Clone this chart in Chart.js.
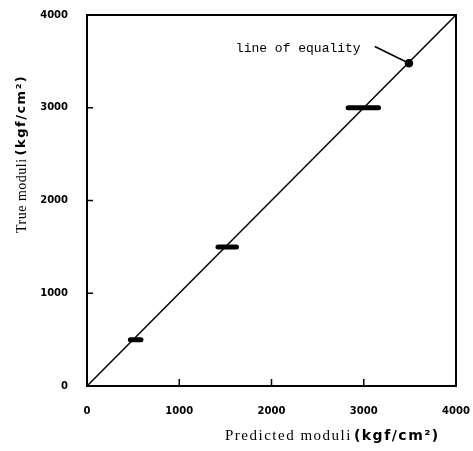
<!DOCTYPE html>
<html>
<head>
<meta charset="utf-8">
<script src="https://cdn.jsdelivr.net/npm/chart.js@4.4.1/dist/chart.umd.min.js"></script>
<style>
  html, body { margin: 0; padding: 0; background: #fff; }
  #wrap { width: 473px; height: 451px; }
</style>
</head>
<body>
<div id="wrap"><canvas id="myChart" width="473" height="451"></canvas></div>
<script>
"use strict";
// axis ticks
var ticks = [0, 1000, 2000, 3000, 4000];

// measured clusters: predicted values for each true modulus
var true500 = 500;
var pred500 = [470, 510, 550, 585];
var true1500 = 1500;
var pred1500 = [1420, 1470, 1520, 1570, 1620];
var true3000 = 3000;
var pred3000 = [2830, 2900, 2970, 3040, 3100, 3160];

// line of equality and its label arrow
var equality = [0, 4000];
var arrowFrom = [3120, 3660];
var arrowTo = [3490, 3480];
var arrowLabel = "line of equality";
var labelAt = [2290, 3640];

function cluster(tv, preds) {
	var pts = [];
	for (var i = 0; i < preds.length; i = i + 1) {
		pts.push({ x: preds[i], y: tv });
	}
	return pts;
}

function clusterSet(tv, preds) {
	return {
		data: cluster(tv, preds),
		showLine: true,
		borderColor: "#000",
		backgroundColor: "#000",
		borderWidth: 5,
		borderCapStyle: "round",
		pointRadius: 0
	};
}

// box, inward ticks, tick labels, axis titles and the label text
var decor = {
	id: "decor",
	afterDraw: function (chart) {
		var ctx = chart.ctx;
		var a = chart.chartArea;
		var xs = chart.scales.x, ys = chart.scales.y;
		ctx.save();
		ctx.strokeStyle = "#000";
		ctx.lineWidth = 2;
		ctx.strokeRect(a.left, a.top, a.right - a.left, a.bottom - a.top);
		ctx.lineWidth = 1.5;
		for (var i = 1; i < ticks.length - 1; i = i + 1) {
			var px = xs.getPixelForValue(ticks[i]);
			ctx.beginPath(); ctx.moveTo(px, a.bottom); ctx.lineTo(px, a.bottom - 7); ctx.stroke();
			var py = ys.getPixelForValue(ticks[i]);
			ctx.beginPath(); ctx.moveTo(a.left, py); ctx.lineTo(a.left + 6, py); ctx.stroke();
		}
		ctx.fillStyle = "#000";

		// tick labels
		ctx.font = "bold 10px 'DejaVu Sans'";
		ctx.textBaseline = "middle";
		for (var j = 0; j < ticks.length; j = j + 1) {
			ctx.textAlign = "center";
			ctx.fillText(String(ticks[j]), xs.getPixelForValue(ticks[j]), a.bottom + 25);
			ctx.textAlign = "right";
			ctx.fillText(String(ticks[j]), a.left - 19, ys.getPixelForValue(ticks[j]));
		}

		ctx.font = "13px 'Liberation Mono'";
		ctx.textAlign = "center";
		ctx.fillText(arrowLabel, xs.getPixelForValue(labelAt[0]), ys.getPixelForValue(labelAt[1]));

		// x title
		ctx.textAlign = "left";
		ctx.font = "15px 'Liberation Serif'";
		ctx.letterSpacing = "1.5px";
		var p1 = "Predicted moduli";
		ctx.fillText(p1, 225, 436);
		var w1 = ctx.measureText(p1).width;
		ctx.font = "bold 14px 'DejaVu Sans'";
		ctx.letterSpacing = "1.5px";
		ctx.fillText("(kgf/cm²)", 225 + w1 + 2, 436);

		// y title
		ctx.translate(22, 233);
		ctx.rotate(-Math.PI / 2);
		ctx.font = "14px 'Liberation Serif'";
		ctx.letterSpacing = "0.5px";
		var q1 = "True moduli";
		ctx.fillText(q1, 0, 0);
		var w2 = ctx.measureText(q1).width;
		ctx.font = "bold 13px 'DejaVu Sans'";
		ctx.letterSpacing = "1.5px";
		ctx.fillText("(kgf/cm²)", w2 + 3, 0);
		ctx.letterSpacing = "0px";
		ctx.restore();
	}
};

var ctx = document.getElementById("myChart");
var myChart = new Chart(ctx, {
	type: "scatter",
	data: {
		datasets: [
			{
				data: [{ x: equality[0], y: equality[0] }, { x: equality[1], y: equality[1] }],
				showLine: true,
				borderColor: "#000",
				borderWidth: 1.5,
				pointRadius: 0
			},
			clusterSet(true500, pred500),
			clusterSet(true1500, pred1500),
			clusterSet(true3000, pred3000),
			{
				data: [{ x: arrowFrom[0], y: arrowFrom[1] }, { x: arrowTo[0], y: arrowTo[1] }],
				showLine: true,
				borderColor: "#000",
				backgroundColor: "#000",
				borderWidth: 1.5,
				pointRadius: [0, 3.5]
			}
		]
	},
	options: {
		responsive: false,
		animation: false,
		layout: { padding: { top: 15, right: 17, left: 87, bottom: 65 } },
		plugins: { legend: { display: false }, tooltip: { enabled: false } },
		scales: {
			x: {
				type: "linear", min: 0, max: 4000, display: false
			},
			y: {
				type: "linear", min: 0, max: 4000, display: false
			}
		}
	},
	plugins: [decor]
});
</script>
</body>
</html>
